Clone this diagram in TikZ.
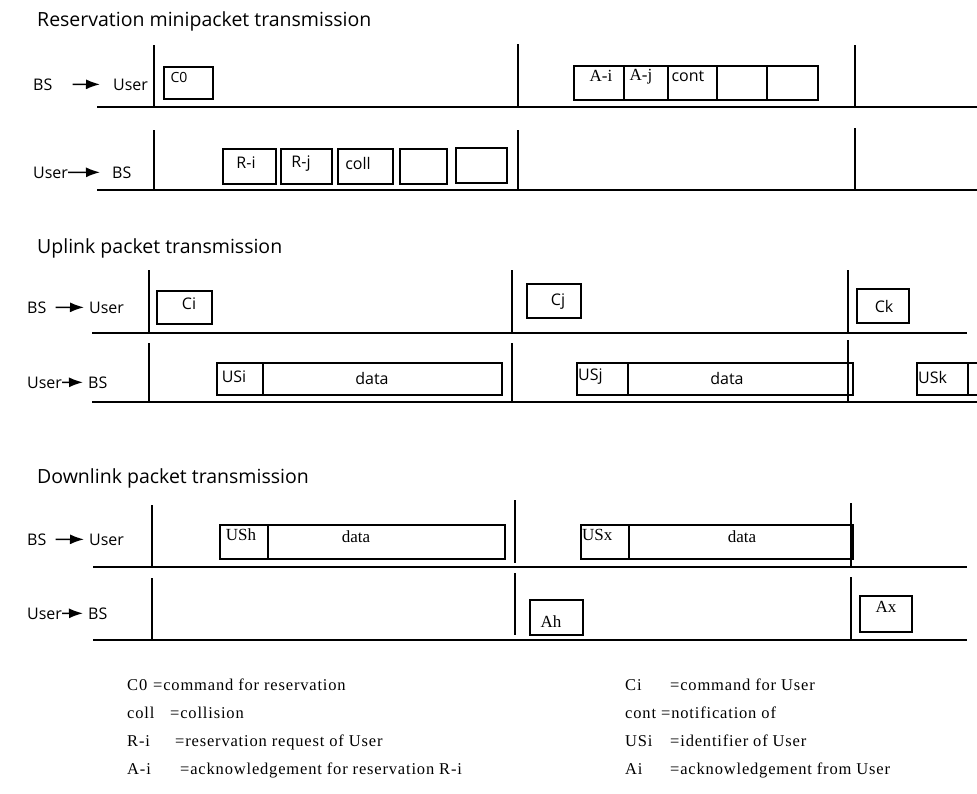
\documentclass[tikz,border=0pt]{standalone}
\usepackage{fontspec}
\setmainfont{Liberation Serif}
\newfontfamily\labfont{Open Sans}
\newfontfamily\legfont[LetterSpace=5]{Liberation Serif}
\usetikzlibrary{arrows.meta}
\newcommand\pkbox[5]{\node[box,minimum width={(#4-#2)*1pt},minimum height={(#5-#3)*1pt}] (#1) at ({(#2+#4)/2},{(#3+#5)/2}) {};}
\tikzset{
 ln/.style={line width=1.6pt},
 box/.style={draw, line width=1.4pt, inner sep=0pt, outer sep=0pt},
 ttl/.style={anchor=base west, inner sep=0pt, font=\labfont\fontsize{19.5}{23}\selectfont},
 lab/.style={anchor=base west, inner sep=0pt, font=\labfont\fontsize{16}{19}\selectfont},
 bsans/.style={inner sep=0pt, font=\labfont\fontsize{16}{19}\selectfont},
 bserif/.style={inner sep=0pt, font=\fontsize{17}{20}\selectfont},
 leg/.style={anchor=base west, inner sep=0pt, font=\legfont\fontsize{16.5}{19}\selectfont},
 arr/.style={line width=1.6pt, -{Latex[length=14pt,width=10pt]}},
}
\begin{document}
\begin{tikzpicture}[x=1pt,y=-1pt]
\useasboundingbox (0,0) rectangle (977,793);
% ===== Section 1 =====
\node[ttl] (t1) at (37,26) {Reservation minipacket transmission};
\node[lab] (s1bs) at (33,90) {BS};
\node[lab] (s1us) at (113,90) {User};
\draw[arr, shorten <=20pt, shorten >=13pt] (s1bs.east) -- (s1us.west);
\node[lab] (s1us2) at (33,178) {User};
\node[lab] (s1bs2) at (112,178) {BS};
\draw[arr, shorten <=0pt, shorten >=12pt] (s1us2.east) -- (s1bs2.west);
\draw[ln] (97,107) -- (977,107);
\draw[ln] (154,45) -- (154,107);
\draw[ln] (518,44) -- (518,107);
\draw[ln] (855,45) -- (855,107);
\draw[ln] (97,190) -- (977,190);
\draw[ln] (154,130) -- (154,190);
\draw[ln] (518,130) -- (518,190);
\draw[ln] (855,128) -- (855,190);
\pkbox{c0}{164}{67}{213}{99}
\node[bsans, font=\labfont\fontsize{14}{16}\selectfont] (c0t) at (179,77) {C0};
\pkbox{a1}{574}{66}{624}{100}
\pkbox{a2}{624}{66}{668}{100}
\pkbox{a3}{668}{66}{717}{100}
\pkbox{a4}{717}{66}{767}{100}
\pkbox{a5}{767}{66}{818}{100}
\node[bserif] (a1t) at (601,76) {A-i};
\node[bserif] (a2t) at (641,77) {A-j};
\node[bsans] (a3t) at (688,76) {cont};
\pkbox{r1}{223}{149}{276}{184}
\pkbox{r2}{281}{149}{332}{184}
\pkbox{r3}{338}{149}{393}{184}
\pkbox{r4}{400}{149}{447}{184}
\pkbox{r5}{456}{148}{507}{183}
\node[bsans] (r1t) at (246,163) {R-i};
\node[bsans] (r2t) at (301,164) {R-j};
\node[bsans] (r3t) at (358,163) {coll};
% ===== Section 2 =====
\node[ttl] (t2) at (37,253) {Uplink packet transmission};
\node[lab] (s2bs) at (27,313) {BS};
\node[lab] (s2us) at (89,313) {User};
\draw[arr, shorten <=9pt, shorten >=5pt] (s2bs.east) -- (s2us.west);
\node[lab] (s2us2) at (27,388) {User};
\node[lab] (s2bs2) at (88,388) {BS};
\draw[arr, shorten <=0pt, shorten >=5pt] (s2us2.east) -- (s2bs2.west);
\draw[ln] (92,333) -- (967,333);
\draw[ln] (149,270) -- (149,333);
\draw[ln] (512,270) -- (512,333);
\draw[ln] (848,270) -- (848,333);
\draw[ln] (92,402) -- (977,402);
\draw[ln] (149,343) -- (149,402);
\draw[ln] (512,343) -- (512,402);
\draw[ln] (848,340) -- (848,402);
\pkbox{ci}{157}{291}{212}{324}
\node[bsans] (cit) at (189,304) {Ci};
\pkbox{cj}{527}{284}{581}{318}
\node[bsans] (cjt) at (558,302) {Cj};
\pkbox{ck}{857}{289}{909}{323}
\node[bsans] (ckt) at (884,306) {Ck};
\pkbox{usi}{217}{363}{263}{395}
\pkbox{usid}{263}{363}{502}{395}
\node[bsans] (usit) at (234,377) {USi};
\node[bsans] (usidt) at (372,378) {data};
\pkbox{usj}{577}{363}{628}{395}
\pkbox{usjd}{628}{363}{853}{395}
\node[bsans, anchor=west] (usjt) at (578,377) {USj};
\node[bsans] (usjdt) at (727,378) {data};
\pkbox{usk}{917}{363}{968}{395}
\pkbox{uskd}{968}{363}{995}{395}
\node[bsans, anchor=west] (uskt) at (918,377) {USk};
% ===== Section 3 =====
\node[ttl] (t3) at (37,483) {Downlink packet transmission};
\node[lab] (s3bs) at (27,545) {BS};
\node[lab] (s3us) at (89,545) {User};
\draw[arr, shorten <=9pt, shorten >=5pt] (s3bs.east) -- (s3us.west);
\node[lab] (s3us2) at (27,619) {User};
\node[lab] (s3bs2) at (88,619) {BS};
\draw[arr, shorten <=0pt, shorten >=5pt] (s3us2.east) -- (s3bs2.west);
\draw[ln] (93,567) -- (967,567);
\draw[ln] (152,505) -- (152,567);
\draw[ln] (515,500) -- (515,563);
\draw[ln] (851,503) -- (851,567);
\draw[ln] (93,640) -- (967,640);
\draw[ln] (152,578) -- (152,640);
\draw[ln] (515,573) -- (515,635);
\draw[ln] (851,577) -- (851,640);
\pkbox{ush}{220}{525}{268}{559}
\pkbox{ushd}{268}{525}{505}{559}
\node[bserif] (usht) at (241,535) {USh};
\node[bserif] (ushdt) at (356,537) {data};
\pkbox{usx}{581}{525}{629}{559}
\pkbox{usxd}{629}{525}{853}{559}
\node[bserif, anchor=west] (usxt) at (582,535) {USx};
\node[bserif] (usxdt) at (742,537) {data};
\pkbox{ah}{530}{600}{583}{635}
\node[bserif] (aht) at (551,622) {Ah};
\pkbox{ax}{860}{596}{912}{632}
\node[bserif] (axt) at (886,607) {Ax};
% ===== Legend =====
\node[leg] (l1a) at (127,690) {C0};
\node[leg] (l1b) at (153,690) {=command for reservation};
\node[leg] (l2a) at (127,718) {coll};
\node[leg] (l2b) at (170,718) {=collision};
\node[leg] (l3a) at (127,746) {R-i};
\node[leg] (l3b) at (175,746) {=reservation request of User};
\node[leg] (l4a) at (127,774) {A-i};
\node[leg] (l4b) at (180,774) {=acknowledgement for reservation R-i};
\node[leg] (r1a) at (625,690) {Ci};
\node[leg] (r1b) at (670,690) {=command for User};
\node[leg] (r2a) at (625,718) {cont};
\node[leg] (r2b) at (661,718) {=notification of};
\node[leg] (r3a) at (625,746) {USi};
\node[leg] (r3b) at (670,746) {=identifier of User};
\node[leg] (r4a) at (625,774) {Ai};
\node[leg] (r4b) at (670,774) {=acknowledgement from User};
\end{tikzpicture}
\end{document}
